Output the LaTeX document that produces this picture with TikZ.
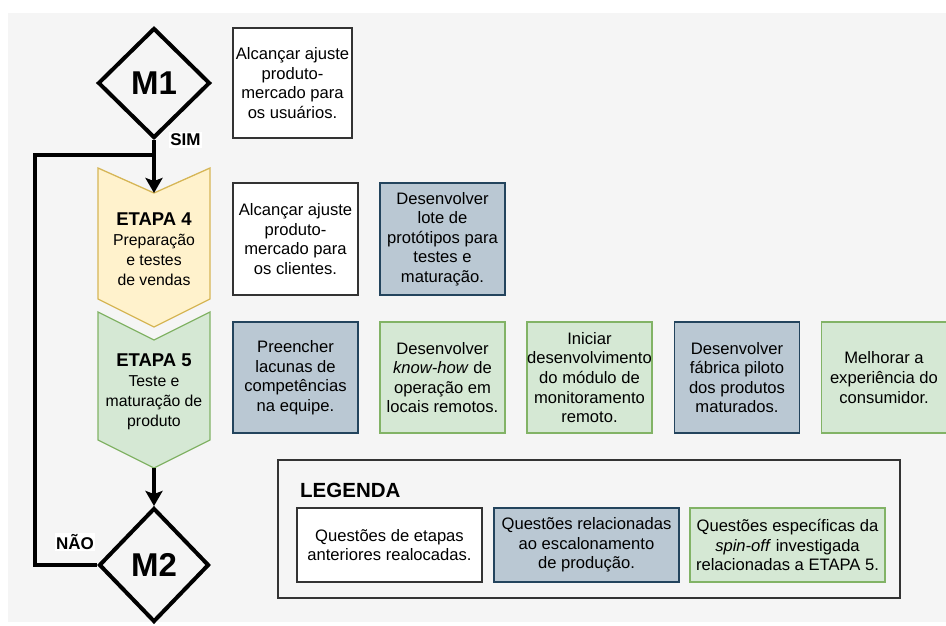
\documentclass[tikz,border=0pt]{standalone}
\usepackage{fontspec}
\setmainfont{Liberation Sans}
\usetikzlibrary{shapes.geometric,arrows.meta}

\definecolor{bggray}{HTML}{F5F5F5}
\definecolor{yfill}{HTML}{FFF2CC}
\definecolor{ydraw}{HTML}{D6B656}
\definecolor{gfill}{HTML}{D5E8D4}
\definecolor{gdraw}{HTML}{82B366}
\definecolor{bfill}{HTML}{BAC8D3}
\definecolor{bdraw}{HTML}{23445D}
\definecolor{kdraw}{HTML}{333333}

\tikzset{
  txt/.style={font=\fontsize{16.6}{19.6}\selectfont, align=center, inner sep=0pt},
  issue/.style={txt, line width=1.4pt, minimum width=125pt, minimum height=111pt},
  oldissue/.style={issue, draw=kdraw, fill=white},
  scaleissue/.style={issue, draw=bdraw, fill=bfill},
  spinissue/.style={issue, draw=gdraw, fill=gfill},
  milestone/.style={draw=black, line width=4pt, shape=diamond, inner sep=0pt,
    minimum width=112pt, minimum height=110pt, font=\fontsize{33}{36}\selectfont\bfseries},
  stagetxt/.style={font=\fontsize{15.8}{20}\selectfont, align=center, inner sep=0pt},
  flow/.style={line width=4pt, draw=black},
  flowarrow/.style={flow, -{Stealth[length=15pt, width=17pt, inset=3pt]}},
  answer/.style={fill=white, inner sep=1.5pt, font=\fontsize{17}{20}\selectfont\bfseries},
}

\newcommand{\stagetitle}[1]{{\fontsize{18.5}{20}\selectfont\bfseries #1}}

\begin{document}
\begin{tikzpicture}[x=1pt, y=-1pt]
  % canvas
  \fill[white] (0,0) rectangle (946,625);
  \useasboundingbox (0,0) rectangle (946,625);
  \fill[bggray] (8,13) rectangle (946,622);

  % stage chevrons
  \filldraw[fill=yfill, draw=ydraw, line width=1.3pt]
    (98,168) -- (154,193) -- (210,168) -- (210,299) -- (154,327) -- (98,299) -- cycle;
  \filldraw[fill=gfill, draw=gdraw, line width=1.3pt]
    (98,312) -- (154,340) -- (210,312) -- (210,440) -- (154,468) -- (98,440) -- cycle;
  \node[stagetxt] (e4) at (154,249) {\stagetitle{ETAPA 4}\\Preparação\\e testes\\de vendas};
  \node[stagetxt] (e5) at (154,392) {\stagetitle{ETAPA 5}\\Teste e\\maturação de\\produto};
  \coordinate (e4top) at (154,193);
  \coordinate (e5tip) at (154,468);

  % milestones
  \node[milestone] (m1) at (154,83) {M1};
  \node[milestone, minimum width=110pt, minimum height=114pt] (m2) at (154,565) {M2};

  % flow lines
  \coordinate (split) at (154,155);
  \coordinate (back) at (35,155);
  \draw[flow] (m2.west) -| (back) -- (split);
  \draw[flowarrow] (m1.south) -- (e4top);
  \draw[flowarrow] (e5tip) -- (m2.north);
  \node[answer] (sim) at (185.5,140) {SIM};
  \node[answer] (nao) at (75,542) {NÃO};

  % issues per stage
  \node[oldissue, minimum width=119pt, minimum height=110pt] (q1) at (292.5,83)
    {Alcançar ajuste\\produto-\\mercado para\\os usuários.};
  \node[oldissue, minimum height=112pt] (q2) at (295.5,239)
    {Alcançar ajuste\\produto-\\mercado para\\os clientes.};
  \node[scaleissue, minimum height=112pt] (q3) at (442.5,239)
    {Desenvolver\\lote de\\protótipos para\\testes e\\maturação.};
  \node[scaleissue] (q4) at (295.5,377.5)
    {Preencher\\lacunas de\\competências\\na equipe.};
  \node[spinissue] (q5) at (442.5,377.5)
    {Desenvolver\\\textit{know-how} de\\operação em\\locais remotos.};
  \node[spinissue] (q6) at (589.5,377.5)
    {Iniciar\\desenvolvimento\\do módulo de\\monitoramento\\remoto.};
  \node[scaleissue] (q7) at (737,377.5)
    {Desenvolver\\fábrica piloto\\dos produtos\\maturados.};
  \node[spinissue] (q8) at (884,377.5)
    {Melhorar a\\experiência do\\consumidor.};

  % legend
  \node[draw=kdraw, line width=1.4pt, minimum width=622pt, minimum height=138pt, inner sep=0pt]
    (legend) at (589,529) {};
  \node[anchor=west, inner sep=0pt, font=\fontsize{20.5}{24}\selectfont\bfseries]
    (legtitle) at (300,490) {LEGENDA};
  \node[oldissue, minimum width=185pt, minimum height=74pt] (l1) at (389.5,545)
    {Questões de etapas\\anteriores realocadas.};
  \node[scaleissue, minimum width=185pt, minimum height=74pt] (l2) at (586.5,545)
    {Questões relacionadas\\ao escalonamento\\de produção.};
  \node[spinissue, minimum width=195pt, minimum height=74pt] (l3) at (787.5,545)
    {Questões específicas da\\\textit{spin-off} investigada\\relacionadas a ETAPA 5.};
\end{tikzpicture}
\end{document}
